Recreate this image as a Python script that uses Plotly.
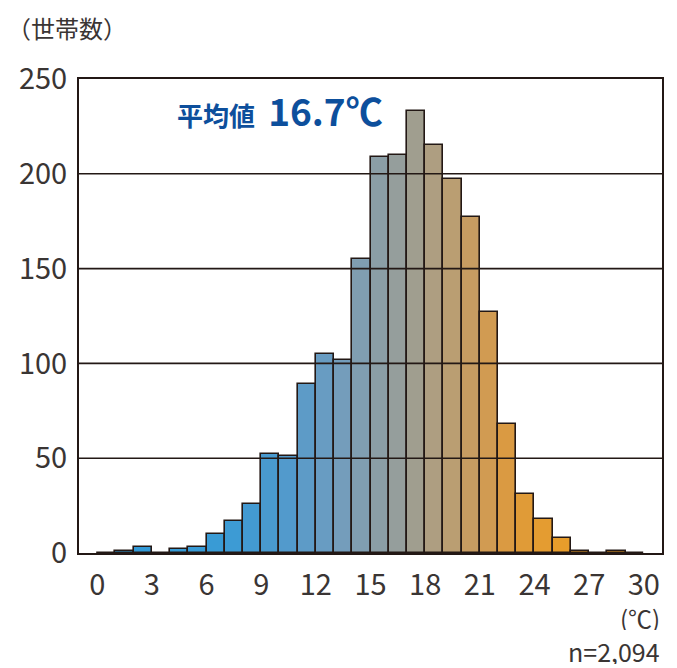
import plotly.graph_objects as go

# ---- data ----
bin_left = list(range(0, 30))          # 1℃ bins, left edges
counts = [0, 1, 3, 0, 2, 3, 10, 17, 26, 52,
          51, 89, 105, 102, 155, 209, 210, 233, 215, 197,
          177, 127, 68, 31, 18, 8, 1, 0, 1, 0]
x_ticks = list(range(0, 31, 3))
y_ticks = [0, 50, 100, 150, 200, 250]
y_title = "（世帯数）"
mean_label = "平均値"
mean_value = "16.7℃"
unit_label = "(℃)"
n_label = "n=2,094"

# ---- style ----
INK = "#231815"
TXT = "#3a3534"
BLUE = "#0d4f9c"
FONT = "Noto Sans CJK JP"

stops = [(0, (47, 154, 216)), (7, (58, 155, 213)), (10, (76, 154, 206)),
         (13, (110, 156, 192)), (15, (134, 159, 172)), (17, (154, 157, 150)),
         (19, (180, 159, 122)), (21, (205, 155, 90)), (23, (222, 154, 58)),
         (26, (234, 158, 40)), (30, (236, 158, 36))]


def grad(v):
    for (a, ca), (b, cb) in zip(stops[:-1], stops[1:]):
        if a <= v <= b:
            t = (v - a) / (b - a)
            c = [round(ca[i] + (cb[i] - ca[i]) * t) for i in range(3)]
            return f"rgb({c[0]},{c[1]},{c[2]})"
    return f"rgb{stops[-1][1]}"


colors = [grad(b + 0.5) for b in bin_left]

fig = go.Figure(go.Bar(
    x=[b + 0.5 for b in bin_left], y=counts, width=1,
    marker=dict(color=colors, line=dict(color=INK, width=1.6)),
    hoverinfo="x+y",
))

shapes = [dict(type="line", xref="x domain", yref="y", x0=0, x1=1, y0=v, y1=v,
               line=dict(color=INK, width=1.6), layer="above")
          for v in y_ticks[1:-1]]

fig.update_layout(
    width=669, height=660,
    margin=dict(l=71, r=15, t=71, b=115),
    paper_bgcolor="white", plot_bgcolor="white",
    showlegend=False, bargap=0,
    font=dict(family=FONT, color=TXT, size=29),
    shapes=shapes,
    xaxis=dict(range=[-1, 31], tickvals=x_ticks, showgrid=False, zeroline=False,
               showline=True, mirror=True, linecolor=INK, linewidth=2,
               ticks="", ticklabelstandoff=5,
               tickfont=dict(family=FONT, size=29, color=TXT)),
    yaxis=dict(range=[0, 250], tickvals=y_ticks, showgrid=False, zeroline=False,
               showline=True, mirror=True, linecolor=INK, linewidth=2,
               ticks="", ticklabelstandoff=4,
               tickfont=dict(family=FONT, size=29, color=TXT)),
    annotations=[
        dict(text=y_title, xref="paper", yref="paper", x=-0.127, y=1.108,
             xanchor="left", yanchor="middle", showarrow=False,
             font=dict(family=FONT, size=24, color=TXT)),
        dict(text=f"<b><span style='font-size:26px'>{mean_label}</span>&nbsp;&nbsp;"
                  f"<span style='font-size:37px'>{mean_value}</span></b>",
             xref="paper", yref="paper", x=0.165, y=0.934,
             xanchor="left", yanchor="middle", showarrow=False,
             font=dict(family=FONT, color=BLUE)),
        dict(text=unit_label, xref="paper", yref="paper", x=1.0, y=-0.136,
             xanchor="right", yanchor="middle", showarrow=False, height=26,
             font=dict(family=FONT, size=24, color=TXT)),
        dict(text=n_label, xref="paper", yref="paper", x=1.0, y=-0.207,
             xanchor="right", yanchor="middle", showarrow=False, height=26,
             font=dict(family=FONT, size=25, color=TXT)),
    ],
)

fig.write_html("out.html")
